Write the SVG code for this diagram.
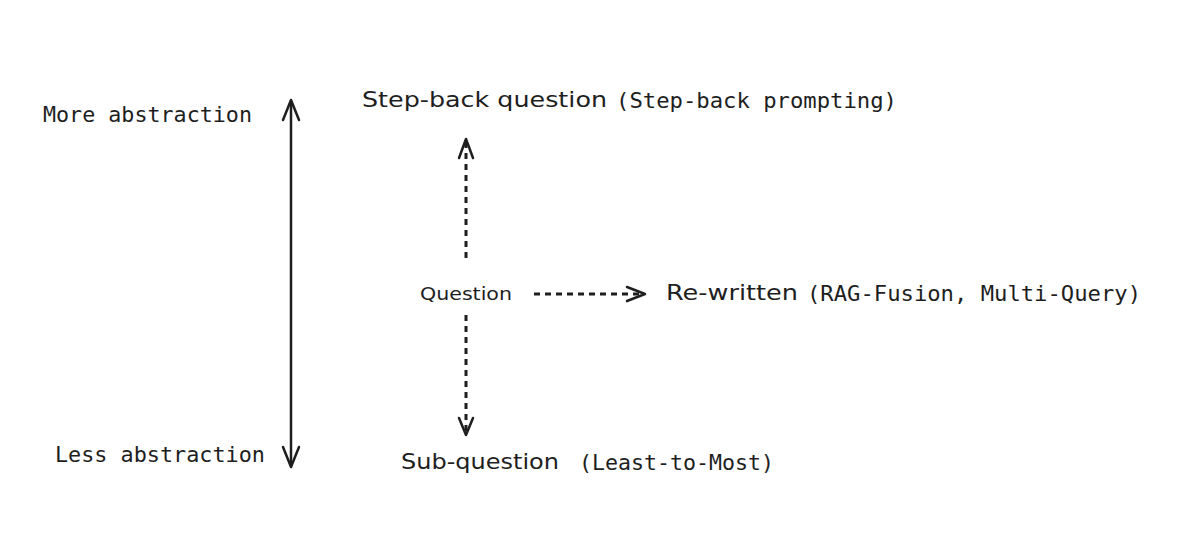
<svg xmlns="http://www.w3.org/2000/svg" width="1204" height="544" viewBox="0 0 1204 544">
<style>
.mono{font-family:"DejaVu Sans Mono","Liberation Mono",monospace;font-size:21px;fill:#1e1e1e}
.hand{font-family:"DejaVu Sans","Noto Sans",sans-serif;fill:#1e1e1e}
.solid{stroke:#1e1e1e;stroke-width:2.5;fill:none;stroke-linecap:round;stroke-linejoin:round}
.dash{stroke:#1e1e1e;stroke-width:3;fill:none;stroke-dasharray:6 5}
.head{stroke:#1e1e1e;stroke-width:2.5;fill:none;stroke-linecap:round;stroke-linejoin:round}
</style>
<rect width="1204" height="544" fill="#ffffff"/>
<g id="more-abstraction"><text class="mono" x="43" y="122" textLength="209" lengthAdjust="spacingAndGlyphs">More abstraction</text></g>
<g id="less-abstraction"><text class="mono" x="55" y="462" textLength="210" lengthAdjust="spacingAndGlyphs">Less abstraction</text></g>
<g id="step-back">
<text class="hand" x="362" y="107" font-size="22" textLength="245" lengthAdjust="spacingAndGlyphs">Step-back question</text>
<text class="mono" x="616" y="108" textLength="281" lengthAdjust="spacingAndGlyphs">(Step-back prompting)</text>
</g>
<g id="question"><text class="hand" x="420" y="300" font-size="17" textLength="92" lengthAdjust="spacingAndGlyphs">Question</text></g>
<g id="rewritten">
<text class="hand" x="666" y="300" font-size="22" textLength="132" lengthAdjust="spacingAndGlyphs">Re-written</text>
<text class="mono" x="807" y="301" textLength="334" lengthAdjust="spacingAndGlyphs">(RAG-Fusion, Multi-Query)</text>
</g>
<g id="sub-question">
<text class="hand" x="401" y="469" font-size="21" textLength="158" lengthAdjust="spacingAndGlyphs">Sub-question</text>
<text class="mono" x="579" y="470" textLength="195" lengthAdjust="spacingAndGlyphs">(Least-to-Most)</text>
</g>
<g id="connectors">
<line class="solid" x1="291" y1="101" x2="291" y2="465"/>
<polyline class="head" points="283,120 291,100 299,120"/>
<polyline class="head" points="283,447 291,467 299,447"/>
<line class="dash" x1="466" y1="258" x2="466" y2="142"/>
<polyline class="head" points="459,158 466,139 473,158"/>
<line class="dash" x1="466" y1="315" x2="466" y2="433"/>
<polyline class="head" points="459,418 466,435 473,418"/>
<line class="dash" x1="534" y1="294" x2="642" y2="294"/>
<polyline class="head" points="627,287 645,294 627,301"/>
</g>
</svg>
